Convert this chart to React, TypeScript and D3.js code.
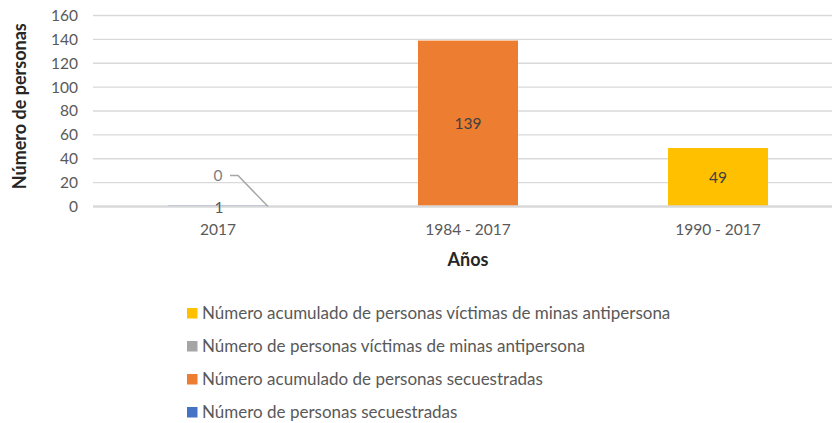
import * as d3 from 'd3'

const categories = ["2017", "1984 - 2017", "1990 - 2017"]
const secuestradas = [1, null, null]
const acumSecuestradas = [null, 139, null]
const victimas = [0, null, null]
const acumVictimas = [null, null, 49]
const yTicks = [0, 20, 40, 60, 80, 100, 120, 140, 160]

const series = [
  { name: "Número de personas secuestradas", values: secuestradas, color: "#4472C4" },
  { name: "Número acumulado de personas secuestradas", values: acumSecuestradas, color: "#ED7D31" },
  { name: "Número de personas víctimas de minas antipersona", values: victimas, color: "#A5A5A5" },
  { name: "Número acumulado de personas víctimas de minas antipersona", values: acumVictimas, color: "#FFC000" },
]

const FONT = "Lato, 'Open Sans', sans-serif"

const App = () => {
  const x = d3.scaleBand()
    .domain(categories)
    .range([93, 843])
    .paddingInner(0.6)
    .paddingOuter(0.3)
  const y = d3.scaleLinear().domain([0, 160]).range([206.5, 15.5])
  const cx = (c: string) => (x(c) ?? 0) + x.bandwidth() / 2

  const legend = [...series].reverse()

  return (
    <svg width={832} height={423} style={{ position: "absolute", left: 0, top: 0, fontFamily: FONT }}>
      <rect width={832} height={423} fill="#fff" />
      {yTicks.filter(t => t > 0).map(t => (
        <line key={t} x1={93} x2={843} y1={y(t)} y2={y(t)} stroke="#d9d9d9" strokeWidth={1.3} />
      ))}
      {series.map(s => s.values.map((v, i) => v == null || v === 0 ? null : (
        <rect key={s.name + i} x={x(categories[i])} width={x.bandwidth()}
          y={y(v)} height={y(0) - y(v)} fill={s.color} />
      )))}
      <line x1={93} x2={843} y1={y(0)} y2={y(0)} stroke="#d9d9d9" strokeWidth={2.6} />
      {yTicks.map(t => (
        <text key={t} x={78} y={y(t)} dy="0.35em" textAnchor="end" fontSize={15.5} fill="#595959">{t}</text>
      ))}
      {categories.map(c => (
        <text key={c} x={cx(c)} y={230} dy="0.35em" textAnchor="middle" fontSize={15.5} fill="#595959">{c}</text>
      ))}
      {/* etiquetas de datos */}
      {[acumSecuestradas, acumVictimas].map((vals, k) => vals.map((v, i) => v == null ? null : (
        <text key={k + "-" + i} x={cx(categories[i])} y={(y(v) + y(0)) / 2}
          dy="0.35em" textAnchor="middle" fontSize={15.5} fill="#404040">{v}</text>
      )))}
      <text x={cx(categories[0]) + 1} y={y(secuestradas[0] ?? 0)+ 2} dy="0.35em"
        textAnchor="middle" fontSize={15.5} fill="#595959">{secuestradas[0]}</text>
      <text x={cx(categories[0])} y={y(25.5)} dy="0.35em"
        textAnchor="middle" fontSize={15.5} fill="#7f7f7f">{victimas[0]}</text>
      <polyline
        points={`${(x(categories[0]) ?? 0) + 62},${y(26)} ${(x(categories[0]) ?? 0) + 70},${y(26)} ${(x(categories[0]) ?? 0) + x.bandwidth()},${y(victimas[0] ?? 0)}`}
        fill="none" stroke="#a6a6a6" strokeWidth={1.5} />
      <text x={cx(categories[1])} y={260} dy="0.35em" textAnchor="middle" fontSize={18} fontWeight="bold" fill="#262626">Años</text>
      <text transform={`translate(20,${y(84)}) rotate(-90)`} dy="0.35em" textAnchor="middle" fontSize={18} fontWeight="bold" fill="#262626">Número de personas</text>
      {legend.map((s, i) => (
        <g key={s.name} transform={`translate(187,${313 + i * 33})`}>
          <rect x={0} y={-5} width={10.5} height={10.5} fill={s.color} />
          <text x={15} y={0} dy="0.35em" fontSize={17} fill="#595959">{s.name}</text>
        </g>
      ))}
    </svg>
  )
}

export default App
